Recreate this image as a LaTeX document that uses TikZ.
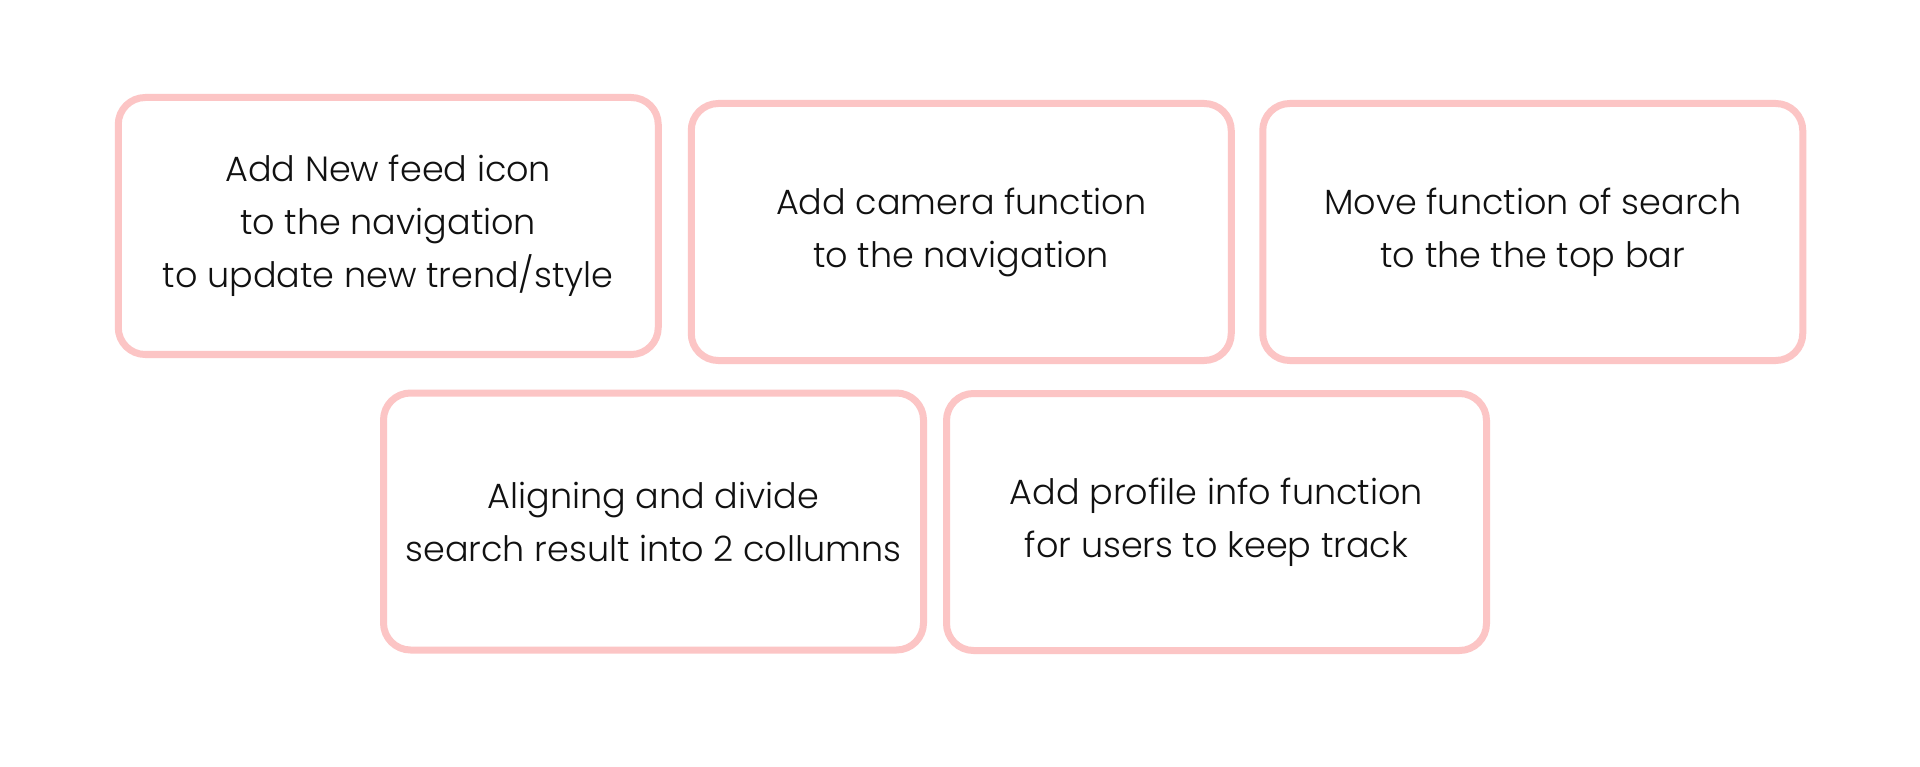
\documentclass[tikz,border=0pt]{standalone}
\usepackage{fontspec}
\IfFontExistsTF{Poppins Light}{\setmainfont{Poppins Light}}{\setmainfont{Poppins}}
\definecolor{boxpink}{RGB}{252,197,197}
\definecolor{txt}{RGB}{17,17,17}
\tikzset{
  card/.style={draw=boxpink, line width=7pt, rounded corners=27pt,
    minimum width=540pt, minimum height=257pt, inner sep=0pt,
    align=center, text=txt, font=\fontsize{35}{53}\selectfont}
}
\begin{document}
\begin{tikzpicture}[x=1pt,y=-1pt]
\useasboundingbox[fill=white] (0,0) rectangle (1920,767);
\node[card] (n1) at (388.25,226) {Add New feed icon\\to the navigation\\to update new trend/style};
\node[card] (n2) at (961.25,232) {Add camera function\\to the navigation};
\node[card] (n3) at (1532.75,232) {Move function of search\\to the the top bar};
\node[card] (n4) at (653.5,521.5) {Aligning and divide\\search result into 2 collumns};
\node[card] (n5) at (1216.5,522) {Add profile info function\\for users to keep track};
\end{tikzpicture}
\end{document}
